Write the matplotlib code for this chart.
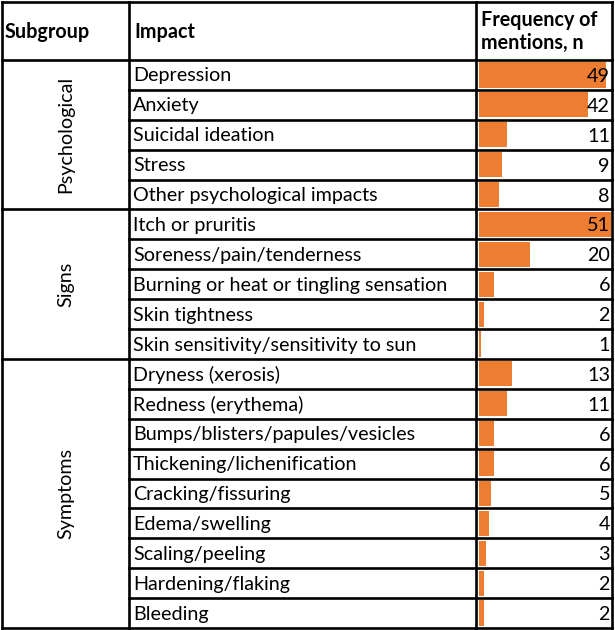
import matplotlib.pyplot as plt
import numpy as np

subgroups = ["Psychological", "Signs", "Symptoms"]
group_sizes = [5, 5, 9]
impacts = [
    "Depression", "Anxiety", "Suicidal ideation", "Stress", "Other psychological impacts",
    "Itch or pruritis", "Soreness/pain/tenderness", "Burning or heat or tingling sensation",
    "Skin tightness", "Skin sensitivity/sensitivity to sun",
    "Dryness (xerosis)", "Redness (erythema)", "Bumps/blisters/papules/vesicles",
    "Thickening/lichenification", "Cracking/fissuring", "Edema/swelling",
    "Scaling/peeling", "Hardening/flaking", "Bleeding",
]
counts = [49, 42, 11, 9, 8, 51, 20, 6, 2, 1, 13, 11, 6, 6, 5, 4, 3, 2, 2]

W, H = 615, 630
fig = plt.figure(figsize=(W / 100, H / 100), dpi=100)
plt.rcParams['font.family'] = ['Lato', 'DejaVu Sans']

ax = fig.add_axes([0, 0, 1, 1])
ax.set_xlim(0, W)
ax.set_ylim(H, 0)
ax.axis("off")

x0, x1, x2, x3 = 2, 129, 476, 612
y_top, y_head, y_bot = 1.5, 60, 628
n = len(impacts)
rh = (y_bot - y_head) / n
lw = 1.9

# outer frame + column dividers
for x in (x0, x1, x2, x3):
    ax.plot([x, x], [y_top, y_bot], color="black", lw=lw, solid_capstyle="projecting")
ax.plot([x0, x3], [y_top, y_top], color="black", lw=lw, solid_capstyle="projecting")
ax.plot([x0, x3], [y_head, y_head], color="black", lw=lw)

# row lines
starts = np.cumsum([0] + group_sizes)
for i in range(1, n + 1):
    y = y_head + i * rh
    if i in starts:
        ax.plot([x0, x3], [y, y], color="black", lw=lw, solid_capstyle="projecting")
    else:
        ax.plot([x1, x3], [y, y], color="black", lw=lw)

# header
fs = 14.2
ax.text(x0 + 3, (y_top + y_head) / 2 + 1, "Subgroup", fontsize=fs, fontweight="bold", va="center")
ax.text(x1 + 5, (y_top + y_head) / 2 + 1, "Impact", fontsize=fs, fontweight="bold", va="center")
ax.text(x2 + 5, (y_top + y_head) / 2 + 1, "Frequency of\nmentions, n", fontsize=fs,
        fontweight="bold", va="center", linespacing=1.2)

# subgroup labels
for g, name in enumerate(subgroups):
    yc = y_head + (starts[g] + starts[g + 1]) / 2 * rh
    ax.text((x0 + x1) / 2, yc, name, fontsize=fs, rotation=90, ha="center", va="center")

# impact labels
for i, label in enumerate(impacts):
    ax.text(x1 + 4, y_head + (i + 0.5) * rh + 1, label, fontsize=fs, va="center")

# bars
bx = fig.add_axes([(x2 + 2.5) / W, 1 - y_bot / H, (x3 - x2 - 3.5) / W, (y_bot - y_head) / H])
bx.barh(np.arange(n), counts, height=0.84, color="#ED7D31")
bx.set_xlim(0, 51)
bx.set_ylim(n - 0.5, -0.5)
bx.axis("off")
for i, c in enumerate(counts):
    bx.text(50.6, i + 0.05, str(c), fontsize=fs, ha="right", va="center")

fig.savefig("out.png", dpi=100)
